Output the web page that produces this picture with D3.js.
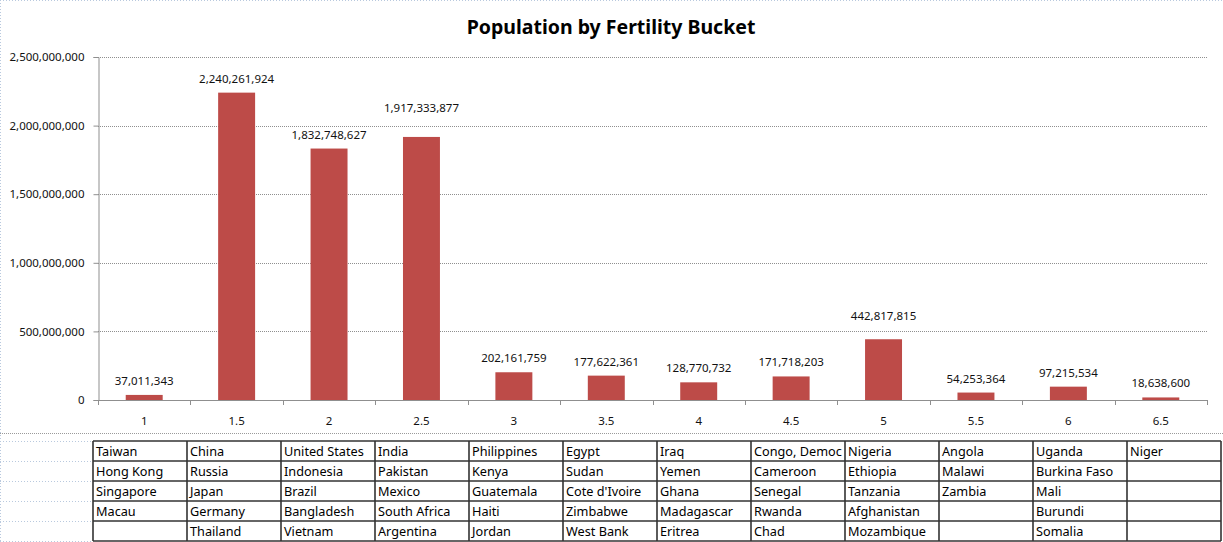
<!DOCTYPE html>
<html>
<head>
<meta charset="utf-8">
<script src="https://cdn.jsdelivr.net/npm/d3@7"></script>
<style>
  body { margin: 0; background: #fff; }
  svg { display: block; font-family: "Noto Sans", "Open Sans", sans-serif; }
</style>
</head>
<body>
<div id="chart"></div>
<script>
// fertility buckets and total population in each
var buckets = ["1", "1.5", "2", "2.5", "3", "3.5", "4", "4.5", "5", "5.5", "6", "6.5"];
var population = [37011343, 2240261924, 1832748627, 1917333877, 202161759, 177622361,
                  128770732, 171718203, 442817815, 54253364, 97215534, 18638600];
var yTicks = [0, 500000000, 1000000000, 1500000000, 2000000000, 2500000000];

// countries listed under each bucket (table under the chart)
var countries = [
    ["Taiwan", "Hong Kong", "Singapore", "Macau", ""],
    ["China", "Russia", "Japan", "Germany", "Thailand"],
    ["United States", "Indonesia", "Brazil", "Bangladesh", "Vietnam"],
    ["India", "Pakistan", "Mexico", "South Africa", "Argentina"],
    ["Philippines", "Kenya", "Guatemala", "Haiti", "Jordan"],
    ["Egypt", "Sudan", "Cote d'Ivoire", "Zimbabwe", "West Bank"],
    ["Iraq", "Yemen", "Ghana", "Madagascar", "Eritrea"],
    ["Congo, Democratic Republic", "Cameroon", "Senegal", "Rwanda", "Chad"],
    ["Nigeria", "Ethiopia", "Tanzania", "Afghanistan", "Mozambique"],
    ["Angola", "Malawi", "Zambia", "", ""],
    ["Uganda", "Burkina Faso", "Mali", "Burundi", "Somalia"],
    ["Niger", "", "", "", ""]
];

var W = 1223, H = 542;
var svg = d3.select("#chart").append("svg")
    .attr("width", W)
    .attr("height", H);

// spreadsheet gridlines behind everything
var sheet = svg.append("g");
sheet.append("line")
    .attr("x1", 0).attr("x2", W).attr("y1", 0.5).attr("y2", 0.5)
    .attr("stroke", "#b9c9de").attr("stroke-dasharray", "1,2");
sheet.append("line")
    .attr("x1", 0.5).attr("x2", 0.5).attr("y1", 0).attr("y2", H)
    .attr("stroke", "#b9c9de").attr("stroke-dasharray", "1,2");

var plot = {left: 98, right: 1207, top: 57, bottom: 400};

var x = d3.scaleBand()
    .domain(buckets)
    .range([plot.left, plot.right])
    .paddingInner(0.6)
    .paddingOuter(0.3);

var y = d3.scaleLinear()
    .domain([0, 2500000000])
    .range([plot.bottom, plot.top]);

var fmt = d3.format(",");

// a couple of labels were dragged up by hand in the original
var labelLift = {"2.5": 15, "5": 9};

// title
svg.append("text")
    .attr("x", 611)
    .attr("y", 34)
    .attr("text-anchor", "middle")
    .attr("font-size", "19.5px")
    .attr("font-weight", "bold")
    .attr("fill", "#000")
    .text("Population by Fertility Bucket");

// gridlines
svg.append("g")
    .selectAll("line")
    .data(yTicks.slice(1))
    .enter().append("line")
    .attr("x1", plot.left)
    .attr("x2", plot.right)
    .attr("y1", function(d) { return Math.round(y(d)) + 0.5; })
    .attr("y2", function(d) { return Math.round(y(d)) + 0.5; })
    .attr("stroke", "#8f8f8f")
    .attr("stroke-dasharray", "1,1");

// y axis
var yAxis = svg.append("g")
    .attr("transform", "translate(" + (plot.left + 0.5) + ",0)")
    .call(d3.axisLeft(y).tickValues(yTicks).tickFormat(fmt).tickSize(5).tickPadding(9));
yAxis.select(".domain").attr("stroke", "#8f8f8f");
yAxis.selectAll(".tick line").attr("stroke", "#8f8f8f");
yAxis.selectAll("text")
    .attr("font-size", "11.5px")
    .attr("font-family", "Noto Sans, sans-serif")
    .attr("fill", "#111");

// bars
svg.append("g")
    .selectAll("rect")
    .data(population)
    .enter().append("rect")
    .attr("x", function(d, i) { return x(buckets[i]); })
    .attr("y", function(d) { return y(d); })
    .attr("width", x.bandwidth())
    .attr("height", function(d) { return plot.bottom - y(d); })
    .attr("fill", "#bd4b48");

// data labels
svg.append("g")
    .selectAll("text")
    .data(population)
    .enter().append("text")
    .attr("x", function(d, i) { return x(buckets[i]) + x.bandwidth() / 2; })
    .attr("y", function(d, i) { return y(d) - 10 - (labelLift[buckets[i]] || 0); })
    .attr("text-anchor", "middle")
    .attr("font-size", "11.5px")
    .attr("fill", "#111")
    .text(function(d) { return fmt(d); });

// x axis: ticks between categories
var step = x.step();
var xAxis = svg.append("g");
xAxis.append("line")
    .attr("x1", plot.left).attr("x2", plot.right)
    .attr("y1", plot.bottom + 0.5).attr("y2", plot.bottom + 0.5)
    .attr("stroke", "#8f8f8f");
xAxis.selectAll(".tk")
    .data(d3.range(buckets.length + 1))
    .enter().append("line")
    .attr("x1", function(i) { return Math.round(plot.left + i * step) + 0.5; })
    .attr("x2", function(i) { return Math.round(plot.left + i * step) + 0.5; })
    .attr("y1", plot.bottom)
    .attr("y2", plot.bottom + 5)
    .attr("stroke", "#8f8f8f");
xAxis.selectAll("text")
    .data(buckets)
    .enter().append("text")
    .attr("x", function(d) { return x(d) + x.bandwidth() / 2; })
    .attr("y", 425)
    .attr("text-anchor", "middle")
    .attr("font-size", "11.5px")
    .attr("fill", "#111")
    .text(function(d) { return d; });

// chart object bottom edge
svg.append("line")
    .attr("x1", 0).attr("x2", W)
    .attr("y1", 433.5).attr("y2", 433.5)
    .attr("stroke", "#9a9a9a")
    .attr("stroke-dasharray", "1,1");

// table of countries
var tbl = {left: 93, right: 1221, top: 441, rowH: 20, rows: 5};
var colW = (tbl.right - tbl.left) / buckets.length;

// empty sheet rows to the left of the table
sheet.selectAll(".row")
    .data(d3.range(tbl.rows + 1))
    .enter().append("line")
    .attr("x1", 0).attr("x2", tbl.left)
    .attr("y1", function(r) { return tbl.top + r * tbl.rowH + 0.5; })
    .attr("y2", function(r) { return tbl.top + r * tbl.rowH + 0.5; })
    .attr("stroke", "#b9c9de")
    .attr("stroke-dasharray", "1,2");

var table = svg.append("g");

countries.forEach(function(col, c) {
    var cx = tbl.left + c * colW;
    table.append("g")
        .selectAll("text")
        .data(col)
        .enter().append("text")
        .attr("x", cx + 3)
        .attr("y", function(d, r) { return tbl.top + r * tbl.rowH + 15; })
        .attr("font-size", "12.7px")
        .attr("fill", "#000")
        .text(function(d) { return d; })
        .each(function(d) {
            // cut off text that runs past the cell, like the spreadsheet does
            var t = d3.select(this), s = d;
            while (s.length && this.getComputedTextLength() > colW - 5) {
                s = s.slice(0, -1);
                t.text(s);
            }
        });
});

// cell borders
table.selectAll(".hl")
    .data(d3.range(tbl.rows + 1))
    .enter().append("line")
    .attr("x1", tbl.left).attr("x2", tbl.right)
    .attr("y1", function(r) { return tbl.top + r * tbl.rowH; })
    .attr("y2", function(r) { return tbl.top + r * tbl.rowH; })
    .attr("stroke", "#333")
    .attr("stroke-width", 1.6);
table.selectAll(".vl")
    .data(d3.range(buckets.length + 1))
    .enter().append("line")
    .attr("x1", function(c) { return tbl.left + c * colW; })
    .attr("x2", function(c) { return tbl.left + c * colW; })
    .attr("y1", tbl.top)
    .attr("y2", tbl.top + tbl.rows * tbl.rowH)
    .attr("stroke", "#333")
    .attr("stroke-width", 1.6);
</script>
</body>
</html>
